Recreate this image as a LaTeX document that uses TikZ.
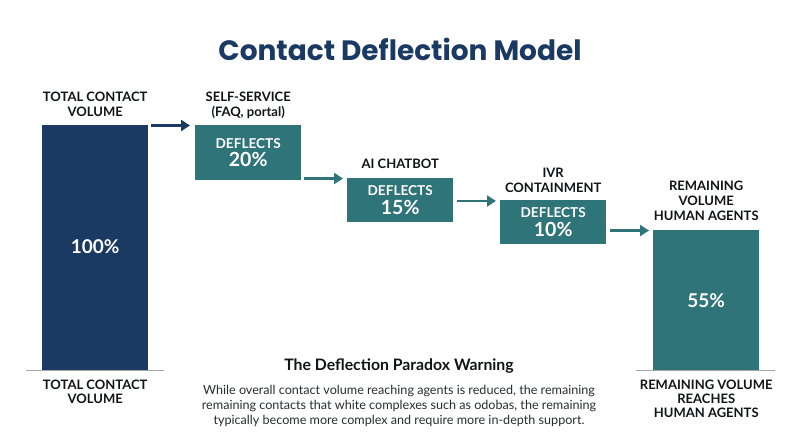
\documentclass[tikz,border=0pt]{standalone}
\usepackage{fontspec}
\setmainfont{Lato}
\newfontfamily\titlefont{Poppins}
\usetikzlibrary{positioning, arrows.meta}
\definecolor{navy}{HTML}{1B3A63}
\definecolor{tealbox}{HTML}{2F7478}
\definecolor{inktext}{HTML}{111417}
\tikzset{
    x=1pt, y=-1pt,
    >={Triangle[length=9pt, width=11pt]},
    node distance=2pt,
    box/.style={draw=none, minimum width=106pt, inner sep=0pt, text=white, align=center, font=\bfseries},
    stepbox/.style={box, fill=tealbox, minimum height=55pt, font=\fontsize{13.6}{18.5}\selectfont\bfseries},
    barbox/.style={box, font=\fontsize{19}{20}\selectfont\bfseries},
    caption/.style={align=center, text=inktext, font=\fontsize{13}{15}\selectfont\bfseries, inner sep=0pt},
    endcaption/.style={caption, font=\fontsize{13}{14}\selectfont\bfseries},
    flow/.style={->, line width=2.2pt, color=tealbox},
    baseline rule/.style={gray!70, line width=0.8pt},
    }
\newcommand{\deflects}[1]{DEFLECTS\\{\fontsize{19.5}{18.5}\selectfont #1}}
\begin{document}
\begin{tikzpicture}
\useasboundingbox (0,0) rectangle (800,447);

\node[text=navy, font=\titlefont\fontsize{28}{32}\selectfont\bfseries] (title) at (400,49) {Contact Deflection Model};

% bars and steps
\node[barbox, anchor=north west, fill=navy, minimum height=245pt] (total) at (42,125) {\raisebox{2pt}{100\%}};
\node[stepbox, anchor=north west] (self) at (195,125) {\deflects{20\%}};
\node[stepbox, anchor=north west, minimum height=44pt] (bot) at (347,178) {\deflects{15\%}};
\node[stepbox, anchor=north west, minimum height=44pt] (ivr) at (500,200) {\deflects{10\%}};
\node[barbox, anchor=north west, fill=tealbox, minimum height=140pt] (rest) at (653,230) {\raisebox{-1pt}{55\%}};

% captions
\node[caption, above=8.5pt of total, font=\fontsize{13}{14.5}\selectfont\bfseries] (totalcap) {TOTAL CONTACT\\VOLUME};
\node[caption, above=6pt of self] (selfcap) {SELF-SERVICE\\(FAQ, portal)};
\node[caption, above=9pt of bot] (botcap) {AI CHATBOT};
\node[caption, above=7.5pt of ivr] (ivrcap) {IVR\\CONTAINMENT};
\node[caption, above=9.5pt of rest] (restcap) {REMAINING\\VOLUME\\HUMAN AGENTS};
\node[endcaption, below=9pt of total] (totalend) {TOTAL CONTACT\\VOLUME};
\node[endcaption, below=9pt of rest] (restend) {REMAINING VOLUME\\REACHES\\HUMAN AGENTS};

% base lines
\coordinate (base1a) at (26,370);
\coordinate (base1b) at (164,370);
\coordinate (base2a) at (636,370);
\coordinate (base2b) at (775,370);
\draw[baseline rule] (base1a) -- (base1b);
\draw[baseline rule] (base2a) -- (base2b);

% arrows
\coordinate (a1) at (151,125.5);
\coordinate (a2) at (190,125.5);
\coordinate (b1) at (304,178.5);
\coordinate (b2) at (343,178.5);
\coordinate (c1) at (457,201);
\coordinate (c2) at (496,201);
\coordinate (d1) at (610,230.5);
\coordinate (d2) at (649,230.5);
\draw[flow, color=navy] (a1) -- (a2);
\draw[flow] (b1) -- (b2);
\draw[flow] (c1) -- (c2);
\draw[flow] (d1) -- (d2);

% warning
\node[text=inktext, font=\fontsize{15.8}{18}\selectfont\bfseries] (warnhead) at (399,366) {The Deflection Paradox Warning};
\node[below=8pt of warnhead, align=center, text=inktext!90, inner sep=0pt, font=\fontsize{12.6}{15}\selectfont] (warntext) {While overall contact volume reaching agents is reduced, the remaining\\remaining contacts that white complexes such as odobas, the remaining\\typically become more complex and require more in-depth support.};

\end{tikzpicture}
\end{document}
